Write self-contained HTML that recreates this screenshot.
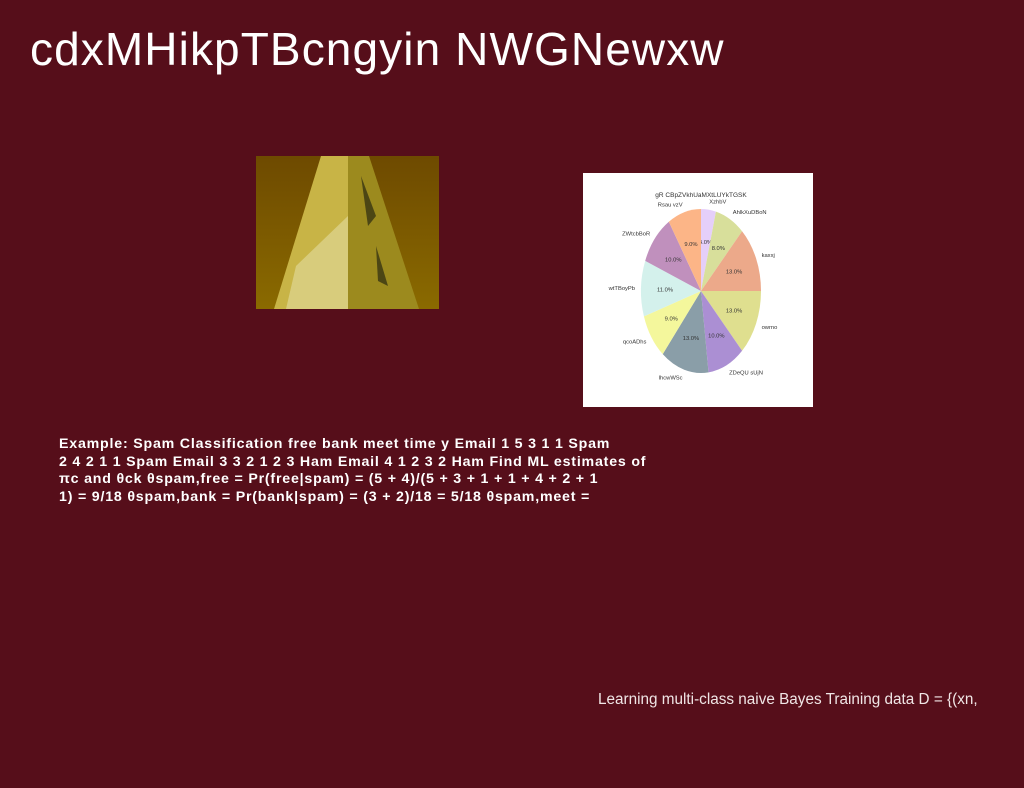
<!DOCTYPE html>
<html><head><meta charset="utf-8"><style>
body{margin:0;width:1024px;height:788px;background:#560e1a;position:relative;overflow:hidden;font-family:"Liberation Sans",sans-serif}
#title{position:absolute;left:30px;top:22px;font-size:46px;color:#fff;white-space:nowrap;letter-spacing:1.1px}
#body{position:absolute;left:59px;top:436px;font-size:14.2px;font-weight:bold;line-height:17.6px;color:#fff;letter-spacing:0.8px;white-space:nowrap}
#foot{position:absolute;left:598px;top:691px;font-size:15.3px;color:#f0e6e6;white-space:nowrap}
#photo{position:absolute;left:256px;top:156px}
#chart{position:absolute;left:583px;top:173px;background:#fff}
</style></head><body>
<div id="title">cdxMHikpTBcngyin NWGNewxw</div>
<svg id="photo" width="183" height="153">
<defs><linearGradient id="bg" x1="0" y1="0" x2="0" y2="1"><stop offset="0" stop-color="#6e4a00"/><stop offset="1" stop-color="#8a6a00"/></linearGradient></defs>
<rect width="183" height="153" fill="url(#bg)"/>
<polygon points="65,0 92,0 92,153 18,153" fill="#c8b446"/>
<polygon points="92,0 113,0 163,153 92,153" fill="#9c8a1e"/>
<polygon points="40,110 92,60 92,153 30,153" fill="#e2dca0" opacity="0.6"/>
<polygon points="105,20 120,60 112,70" fill="#2b2a10" opacity="0.7"/>
<polygon points="120,90 132,130 122,125" fill="#2b2a10" opacity="0.7"/>
</svg>
<svg id="chart" width="230" height="234">
<text x="118" y="24" font-size="6.5" text-anchor="middle" fill="#333">gR CBpZVkhUaMXtLUYkTGSK</text>
<g id="slices"></g>
</svg>
<div id="body">Example: Spam Classification free bank meet time y Email 1 5 3 1 1 Spam<br>2 4 2 1 1 Spam Email 3 3 2 1 2 3 Ham Email 4 1 2 3 2 Ham Find ML estimates of<br>πc and θck θspam,free = Pr(free|spam) = (5 + 4)/(5 + 3 + 1 + 1 + 4 + 2 + 1<br>1) = 9/18 θspam,bank = Pr(bank|spam) = (3 + 2)/18 = 5/18 θspam,meet =</div>
<div id="foot">Learning multi-class naive Bayes Training data D = {(xn,</div>
<script>
const labels=["XzhbV","AhlkXuDBoN","kaxxj","owrno","ZDeQU sUjN","lhcwWSc","qcoADhs","wtTBoyPb","ZWtcbBoR","Rsau vzV"];
const values=[4,8,13,13,10,13,9,11,10,9];
const colors=["#e5cff9","#d8df9b","#eca98a","#dfdf8f","#ab8fd3","#8a9ea8","#f4f79c","#d4f1ec","#c090bd","#fcb587"];
const cx=118,cy=118,rx=60,ry=82,ns="http://www.w3.org/2000/svg";
const g=document.getElementById('slices');
const total=values.reduce((a,b)=>a+b,0);
let a0=-Math.PI/2;
values.forEach((v,i)=>{
 const a1=a0+v/total*2*Math.PI;
 const p=document.createElementNS(ns,'path');
 const x0=cx+rx*Math.cos(a0),y0=cy+ry*Math.sin(a0),x1=cx+rx*Math.cos(a1),y1=cy+ry*Math.sin(a1);
 p.setAttribute('d',`M${cx},${cy}L${x0},${y0}A${rx},${ry} 0 ${a1-a0>Math.PI?1:0} 1 ${x1},${y1}Z`);
 p.setAttribute('fill',colors[i]);
 
 
 g.appendChild(p);
 const m=(a0+a1)/2;
 const t=document.createElementNS(ns,'text');
 t.setAttribute('x',cx+rx*0.6*Math.cos(m));t.setAttribute('y',cy+ry*0.6*Math.sin(m)+2);
 t.setAttribute('font-size','5.8');t.setAttribute('text-anchor','middle');t.setAttribute('fill','#333');
 t.textContent=v.toFixed(1)+'%';
 
 
 g.appendChild(t);
 const l=document.createElementNS(ns,'text');
 l.setAttribute('x',cx+rx*1.1*Math.cos(m));l.setAttribute('y',cy+ry*1.1*Math.sin(m)+2);
 l.setAttribute('font-size','5.8');l.setAttribute('text-anchor',Math.cos(m)>0.05?'start':(Math.cos(m)<-0.05?'end':'middle'));l.setAttribute('fill','#333');
 l.textContent=labels[i];
 
 
 g.appendChild(l);
 a0=a1;
});
</script>
</body></html>
